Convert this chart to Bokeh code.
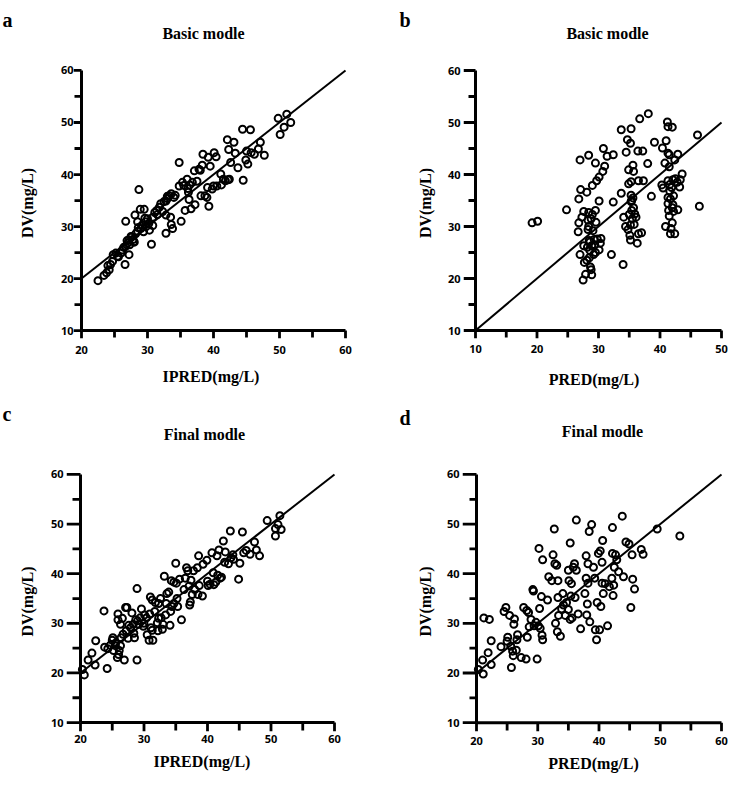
from bokeh.plotting import figure
from bokeh.layouts import column, row
from bokeh.models import Range1d, FixedTicker
from bokeh.core.properties import value
from bokeh.embed import file_html
from bokeh.resources import INLINE

# ---------------- data ----------------
a_pairs = [
    (22.5,19.6),(23.4,20.6),(23.8,21.1),(24.2,21.7),(24.4,22.7),(24.7,23.3),(24.8,24.6),(25.2,24.9),
    (25.6,24.2),(26.0,24.9),(26.2,25.5),(26.6,22.7),(27.2,24.6),(26.7,26.2),(27.0,26.8),(27.2,27.4),
    (27.6,28.0),(27.9,27.1),(26.7,31.0),(28.1,32.2),(28.7,37.1),(28.5,30.9),(28.9,33.3),(29.5,33.3),
    (29.0,29.6),(28.5,29.1),(29.4,29.0),(29.7,30.9),(30.0,31.5),(30.3,29.3),(30.6,26.6),(30.8,31.8),
    (31.1,32.7),(31.4,33.1),(31.8,33.7),(32.0,34.4),(32.5,34.8),(32.3,32.9),(32.8,32.2),(32.8,28.7),
    (33.0,35.4),(33.3,35.9),(33.6,36.3),(33.5,31.8),(33.6,30.4),(33.8,29.6),(34.0,35.6),(34.8,42.3),
    (35.1,31.0),(34.8,37.8),(35.3,38.5),(35.7,33.1),(36.0,39.1),(36.1,37.3),(36.2,36.6),(36.3,35.2),
    (36.6,33.4),(36.8,38.5),(37.1,40.7),(37.2,34.2),(37.8,41.0),(38.1,35.9),(38.3,41.8),(38.4,43.9),
    (38.7,35.9),(39.0,35.6),(39.1,37.5),(39.2,43.3),(39.3,33.9),(39.5,41.6),(39.8,37.2),(40.0,37.8),
    (40.1,44.2),(40.4,43.4),(40.5,37.8),(41.1,40.1),(41.2,38.0),(41.5,39.1),(42.1,46.7),(42.3,44.8),
    (42.4,39.1),(42.6,42.3),(43.1,46.2),(43.3,44.1),(43.7,41.3),(44.4,48.7),(44.5,38.9),(44.9,42.8),
    (45.2,42.0),(45.6,48.6),(45.7,44.2),(46.2,43.9),(46.8,44.9),(47.1,46.2),(47.7,43.7),(49.8,50.8),
    (50.1,47.7),(50.7,49.1),(51.1,51.6),(51.7,50.0),
    (27.3,26.5),(27.8,27.5),(28.2,28.6),(28.6,29.8),(29.2,30.3),(29.8,30.0),(30.2,30.6),(28.0,27.0),
    (26.4,26.0),(25.5,24.3),(24.0,22.5),(26.9,27.3),(27.5,28.1),(29.6,31.6),(31.5,32.3),(33.0,35.8),
    (32.8,34.9),(30.8,30.2),(34.2,36.0),(36.4,38.0),(35.5,37.9),(42.2,39.0),(45.0,44.5),(41.8,38.8),
    (37.5,38.7),(38.0,40.8),
]
a_ipred = [p[0] for p in a_pairs]
a_dv = [p[1] for p in a_pairs]

b_pairs = [
    (19.2,30.7),(20.1,31.0),(24.8,33.2),(26.7,29.0),(26.8,30.7),(26.8,35.3),(27.0,42.8),(27.1,37.1),
    (27.0,24.6),(27.3,31.8),(27.6,32.9),(27.6,26.3),(27.7,23.1),(27.5,19.7),(27.9,20.8),(28.1,36.6),
    (28.3,31.2),(28.3,29.4),(28.4,43.7),(28.4,32.7),(28.5,27.3),(28.6,25.4),(28.7,22.2),(28.8,21.7),
    (28.9,20.7),(29.0,37.9),(29.1,29.2),(29.2,24.6),(29.4,26.5),(29.5,42.2),(29.6,30.8),(29.5,33.1),
    (29.7,38.8),(29.8,27.6),(30.1,39.5),(30.1,25.5),(30.1,34.9),(30.3,26.8),(30.4,27.7),(30.7,40.6),
    (30.8,45.0),(31.0,41.6),(31.4,43.5),(32.4,43.8),(32.1,24.6),(32.4,34.7),(33.7,36.4),(33.7,48.6),
    (34.0,22.7),(34.1,31.8),(34.4,30.0),(34.5,44.3),(34.7,46.7),(34.8,29.4),(34.9,38.2),(34.9,40.9),
    (35.1,28.3),(35.2,27.4),(35.2,46.0),(35.3,48.8),(35.3,38.6),(35.3,36.0),(35.4,35.0),(35.4,33.1),
    (35.5,31.5),(35.6,41.8),(35.7,40.6),(35.7,33.6),(35.8,30.4),(35.9,32.4),(36.1,31.8),(36.3,26.8),
    (36.4,44.5),(36.5,38.8),(36.5,28.6),(36.7,50.7),(37.0,28.8),(37.2,44.5),(37.3,38.8),(38.0,42.1),
    (38.1,51.7),(38.6,35.8),(39.1,46.2),(40.3,38.0),(40.4,45.1),(40.5,37.4),(40.8,42.2),(40.9,30.0),
    (41.0,46.5),(41.2,50.1),(41.3,49.2),(41.3,44.1),(41.3,38.8),(41.3,35.6),(41.3,34.4),(41.4,33.1),
    (41.5,41.5),(41.5,43.8),(41.6,38.1),(41.7,35.3),(41.7,28.6),(41.8,29.6),(41.9,37.5),(42.0,49.1),
    (42.0,30.7),(42.1,39.0),(42.1,34.2),(42.2,32.9),(42.2,35.9),(42.4,42.8),(42.4,28.6),(42.8,38.5),
    (42.9,33.2),(42.9,43.9),(43.2,37.6),(43.3,39.0),(43.6,40.1),(46.1,47.6),(46.4,33.9),
    (28.2,26.0),(28.6,27.0),(28.9,26.3),(29.3,27.5),(28.4,30.0),(28.8,31.5),(29.0,32.3),(28.1,23.5),
    (28.5,24.0),(29.5,25.0),(35.3,34.8),(35.6,35.5),(35.0,32.3),(35.2,30.3),(41.6,36.8),(42.0,33.6),
    (41.5,32.0),(42.5,39.2),
]
b_pred = [p[0] for p in b_pairs]
b_dv = [p[1] for p in b_pairs]

c_pairs = [
    (20.3,20.7),(20.6,19.6),(21.2,22.6),(21.8,24.0),(22.3,21.6),(22.4,26.5),(23.7,32.5),(23.8,25.2),
    (24.2,20.9),(24.3,24.9),(24.7,25.6),(25.0,26.6),(25.1,27.1),(25.2,24.5),(25.5,25.5),(25.8,23.1),
    (25.9,31.9),(25.9,30.7),(26.0,23.7),(26.1,24.5),(26.3,29.8),(26.4,27.1),(26.6,31.0),(26.7,27.8),
    (26.9,22.6),(27.1,33.2),(27.2,28.5),(27.3,33.2),(27.6,29.6),(27.9,29.1),(28.1,32.1),(28.3,29.8),
    (28.5,27.1),(28.7,30.7),(28.9,37.0),(28.9,22.6),(29.0,30.5),(29.2,29.8),(29.4,31.1),(29.6,32.9),
    (29.9,29.4),(30.1,31.7),(30.4,31.1),(30.5,27.7),(30.8,26.6),(30.9,31.9),(31.0,35.3),(31.1,29.1),
    (31.3,34.7),(31.4,26.6),(31.7,32.4),(31.8,34.2),(32.1,30.1),(32.2,28.5),(32.3,34.0),(32.6,35.0),
    (32.7,31.1),(32.9,28.8),(33.0,29.8),(33.2,39.5),(33.4,31.7),(33.5,34.0),(33.6,36.0),(33.9,36.3),
    (34.1,29.6),(34.2,32.4),(34.3,38.6),(34.4,33.4),(34.7,38.3),(35.0,42.1),(35.1,38.1),(35.2,35.0),
    (35.3,33.4),(35.6,38.9),(35.9,30.7),(36.3,36.8),(36.5,39.1),(36.7,41.2),(36.9,40.6),(37.1,37.5),
    (37.2,33.7),(37.3,34.3),(37.4,38.7),(37.6,35.8),(37.8,40.6),(38.4,41.2),(38.5,35.8),(38.6,43.6),
    (38.7,37.6),(39.2,35.5),(39.3,41.9),(39.9,42.7),(40.1,37.6),(40.4,37.9),(40.7,44.2),(40.9,40.2),
    (41.0,37.8),(41.3,38.3),(41.5,43.6),(41.6,39.7),(41.8,44.8),(42.0,39.1),(42.2,39.3),(42.5,46.6),
    (42.7,42.3),(42.8,44.4),(43.6,48.6),(43.7,43.2),(44.0,43.8),(44.1,42.9),(44.9,38.9),(45.1,42.1),
    (45.5,48.4),(45.7,44.2),(46.1,44.7),(46.7,43.9),(47.4,46.4),(47.7,44.8),(48.2,43.6),(49.4,50.7),
    (50.7,47.6),(50.7,49.1),(51.1,49.9),(51.4,51.7),(51.6,48.9),
    (26.3,25.5),(27.5,27.0),(28.4,28.0),(25.5,26.0),(30.0,30.0),(32.3,31.0),(34.7,34.0),(31.3,28.6),
    (38.0,36.8),(40.0,38.5),(43.3,42.0),
]
c_ipred = [p[0] for p in c_pairs]
c_dv = [p[1] for p in c_pairs]

d_pairs = [
    (20.3,20.7),(21.1,19.8),(21.0,22.6),(21.2,31.1),(21.9,24.1),(22.1,30.8),(22.4,26.5),(22.4,21.7),
    (24.0,25.3),(24.5,32.4),(24.8,33.2),(25.0,26.4),(25.1,27.2),(25.4,31.6),(25.6,25.4),(25.7,21.1),
    (25.9,24.4),(26.0,23.5),(26.1,29.8),(26.2,30.9),(26.5,24.6),(26.6,26.7),(26.7,27.7),(27.3,23.1),
    (27.7,33.2),(28.1,22.8),(28.2,32.6),(28.3,27.2),(28.5,32.2),(28.6,29.3),(28.9,30.8),(29.2,36.8),
    (29.3,36.5),(29.4,29.5),(29.7,30.2),(29.9,22.8),(30.1,29.5),(30.2,45.1),(30.3,33.0),(30.4,29.0),
    (30.6,35.4),(30.7,27.6),(30.8,26.7),(30.8,42.8),(31.6,34.7),(31.8,39.4),(32.3,38.6),(32.5,43.8),
    (32.7,49.0),(32.8,42.0),(32.9,30.0),(33.1,41.7),(33.2,28.3),(33.3,35.2),(33.3,38.6),(33.4,31.6),
    (33.7,27.4),(33.9,32.9),(34.1,36.0),(34.2,33.7),(34.5,31.6),(34.7,34.2),(35.0,40.7),(35.0,32.8),
    (35.1,38.6),(35.3,46.2),(35.3,30.8),(35.4,35.5),(35.5,38.0),(35.6,31.1),(35.8,41.3),(36.0,42.0),
    (36.1,35.2),(36.3,40.7),(36.3,50.8),(36.6,31.9),(37.0,28.9),(37.7,36.0),(37.9,43.6),(37.9,39.1),
    (38.0,31.7),(38.1,33.9),(38.2,42.0),(38.2,38.1),(38.4,48.5),(38.5,30.3),(38.8,49.9),(39.1,41.3),
    (39.3,39.1),(39.4,28.7),(39.6,26.7),(39.7,34.2),(39.9,44.1),(40.1,28.7),(40.2,44.6),(40.3,33.4),
    (40.5,38.1),(40.5,42.3),(40.6,46.7),(40.7,36.0),(41.0,38.0),(41.4,29.5),(41.7,37.4),(42.1,39.1),
    (42.2,49.3),(42.2,44.1),(42.3,35.6),(42.4,37.7),(42.5,41.3),(42.7,43.8),(42.9,42.8),(43.2,40.4),
    (43.8,51.6),(44.0,39.4),(44.4,46.4),(44.9,46.0),(45.2,33.2),(45.4,43.8),(45.5,38.9),(45.8,36.9),
    (46.9,44.9),(47.2,43.9),(49.5,49.0),(53.2,47.6),
]
d_pred = [p[0] for p in d_pairs]
d_dv = [p[1] for p in d_pairs]

# identity lines
line_ac_x = [20, 60]
line_ac_y = [20, 60]
line_b_x = [10, 50]
line_b_y = [10, 50]
line_d_x = [20, 60]
line_d_y = [20, 60]

x_range_a = (20, 60)
x_range_b = (10, 50)
y_range_all = (10, 60)

# tick values
ticks_20_60 = [20, 30, 40, 50, 60]
minor_20_60 = [25, 35, 45, 55]
ticks_10_50 = [10, 20, 30, 40, 50]
minor_10_50 = [15, 25, 35, 45]
ticks_10_60 = [10, 20, 30, 40, 50, 60]
minor_10_60 = [15, 25, 35, 45, 55]

row1_letters = ["a", "b"]
row1_titles = ["Basic modle", "Basic modle"]
row2_letters = ["c", "d"]
row2_titles = ["Final modle", "Final modle"]

SERIF = "Liberation Serif"
SANS = "Noto Sans"
W = 728
PAD = 3
TW = 1.4
TICK_COLOR = "black"


def make_header(h, letters, lx, ly, titles, tx, ty):
    p = figure(width=W, height=h, x_range=Range1d(0, W), y_range=Range1d(h, 0),
               output_backend="svg", toolbar_location=None,
               x_axis_type=None, y_axis_type=None, min_border=0)
    p.outline_line_color = None
    p.xgrid.visible = False
    p.ygrid.visible = False
    p.text(x=lx, y=ly, text=letters, text_font=value(SERIF), text_font_style="bold",
           text_font_size="20px", text_baseline="alphabetic", text_align="left",
           text_color="black")
    p.text(x=tx, y=ty, text=titles, text_font=value(SERIF), text_font_style="bold",
           text_font_size="16px", text_baseline="alphabetic", text_align="center",
           text_color="black")
    return p


def make_panel(xs, ys, lx, ly, xr, yr, xticks, xminor, xlabel, g):
    ppx = (g["x1"] - g["x0"]) / (xr[1] - xr[0])
    ppy = (g["y0"] - g["y1"]) / (yr[1] - yr[0])
    ty, tym, tx, txm = g["ty"], g["tym"], g["tx"], g["txm"]
    p = figure(width=g["w"], height=g["h"],
               x_range=Range1d(xr[0] - ty / ppx, xr[1] + PAD / ppx),
               y_range=Range1d(yr[0] - tx / ppy, yr[1] + PAD / ppy),
               output_backend="svg", toolbar_location=None,
               min_border_left=g["x0"] - ty, min_border_right=g["w"] - g["x1"] - PAD,
               min_border_top=g["y1"] - PAD, min_border_bottom=g["h"] - g["y0"] - tx)
    p.outline_line_color = None
    p.xgrid.visible = False
    p.ygrid.visible = False

    dx, dy = TW / ppx, TW / ppy
    xt_all = list(xticks) + list(xminor)
    xt_len = [tx] * len(xticks) + [txm] * len(xminor)
    p.quad(left=[v - dx for v in xt_all], right=[v + dx for v in xt_all],
           top=[yr[0]] * len(xt_all), bottom=[yr[0] - L / ppy for L in xt_len],
           fill_color=TICK_COLOR, line_color=None)
    yt_all = list(ticks_10_60) + list(minor_10_60)
    yt_len = [ty] * len(ticks_10_60) + [tym] * len(minor_10_60)
    p.quad(left=[xr[0] - L / ppx for L in yt_len], right=[xr[0]] * len(yt_all),
           bottom=[v - dy for v in yt_all], top=[v + dy for v in yt_all],
           fill_color=TICK_COLOR, line_color=None)
    p.line([xr[0], xr[0]], [yr[0], yr[1]], line_color="black", line_width=3)
    p.line([xr[0], xr[1]], [yr[0], yr[0]], line_color="black", line_width=3)

    p.line(lx, ly, line_color="black", line_width=2)
    p.scatter(xs, ys, marker="circle", size=7, fill_color=None,
              line_color="black", line_width=2)

    p.xaxis.ticker = FixedTicker(ticks=xticks, minor_ticks=[])
    p.yaxis.ticker = FixedTicker(ticks=ticks_10_60, minor_ticks=[])

    for ax, ls, als in ((p.xaxis[0], g["xls"], g["xals"]),
                        (p.yaxis[0], g["yls"], g["yals"])):
        ax.axis_line_color = None
        ax.major_tick_line_color = None
        ax.minor_tick_line_color = None
        ax.major_tick_in = 0
        ax.major_tick_out = 0
        ax.minor_tick_in = 0
        ax.minor_tick_out = 0
        ax.major_label_standoff = ls
        ax.major_label_text_font = SANS
        ax.major_label_text_font_style = "bold"
        ax.major_label_text_font_size = "11px"
        ax.major_label_text_color = "black"
        ax.axis_label_text_font = SERIF
        ax.axis_label_text_font_style = "bold"
        ax.axis_label_text_font_size = "16px"
        ax.axis_label_text_color = "black"
        ax.axis_label_standoff = als
    p.xaxis.axis_label = xlabel
    p.yaxis.axis_label = "DV(mg/L)"
    return p


ga = dict(w=372, h=343, x0=81, x1=345, y1=17, y0=280, ty=8, tym=7, tx=8, txm=7,
          xls=7, xals=11, yls=0, yals=22)
gb = dict(w=356, h=343, x0=103, x1=349, y1=20, y0=280, ty=12, tym=7, tx=8, txm=7,
          xls=6, xals=15, yls=3, yals=11)
gc = dict(w=372, h=319, x0=80, x1=334, y1=19, y0=269, ty=14, tym=8, tx=9, txm=8,
          xls=3, xals=7, yls=3, yals=12)
gd = dict(w=356, h=319, x0=104, x1=349, y1=15, y0=267, ty=14, tym=7, tx=9, txm=8,
          xls=5, xals=7, yls=3, yals=10)

h1 = make_header(50, row1_letters, [2, 399], [19, 19], row1_titles, [203, 607], [33, 33])
h2 = make_header(62, row2_letters, [2, 399], [20, 24], row2_titles, [204, 602], [41, 38])

pa = make_panel(a_ipred, a_dv, line_ac_x, line_ac_y, x_range_a, y_range_all,
                ticks_20_60, minor_20_60, "IPRED(mg/L)", ga)
pb = make_panel(b_pred, b_dv, line_b_x, line_b_y, x_range_b, y_range_all,
                ticks_10_50, minor_10_50, "PRED(mg/L)", gb)
pc = make_panel(c_ipred, c_dv, line_ac_x, line_ac_y, x_range_a, y_range_all,
                ticks_20_60, minor_20_60, "IPRED(mg/L)", gc)
pd = make_panel(d_pred, d_dv, line_d_x, line_d_y, x_range_a, y_range_all,
                ticks_20_60, minor_20_60, "PRED(mg/L)", gd)

layout = column(h1, row(pa, pb), h2, row(pc, pd))
open("out.html", "w").write(file_html(layout, INLINE))
